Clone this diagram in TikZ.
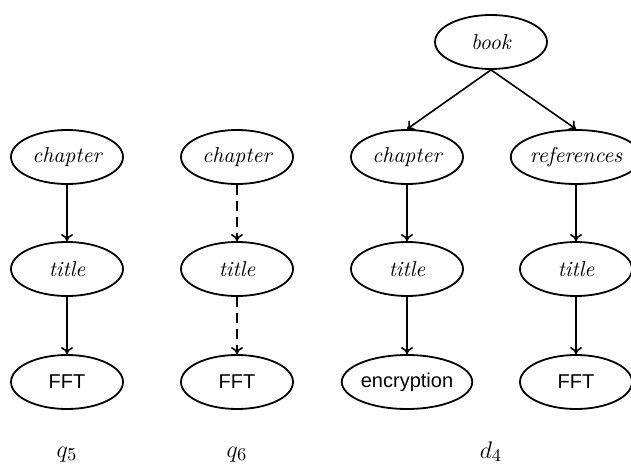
\documentclass[tikz,border=0pt]{standalone}
\usepackage{fontspec}
\newfontfamily\sansf{Liberation Sans}
\usetikzlibrary{shapes.geometric,arrows.meta}
\tikzset{
  el/.style={ellipse,draw,line width=0.9pt,minimum width=56pt,minimum height=27pt,inner sep=0pt,font=\fontsize{10.8}{12}\selectfont\itshape},
  sel/.style={el,font=\fontsize{10}{12}\selectfont\sansf},
  arr/.style={-{To[length=3.5pt,width=6pt]},line width=0.8pt},
  darr/.style={arr,dash pattern=on 5pt off 3pt},
  lab/.style={anchor=base,font=\fontsize{12.5}{14}\selectfont}
}
\begin{document}
\begin{tikzpicture}[x=0.5pt,y=-0.5pt]
\useasboundingbox (0,0) rectangle (631,464);
% q5
\node[el] (c1) at (67,157) {chapter};
\node[el] (t1) at (67,269) {title};
\node[sel] (f1) at (67,382) {FFT};
\draw[arr] (c1.south) -- (t1.north);
\draw[arr] (t1.south) -- (f1.north);
\node[lab] (q5) at (67,457) {$q_5$};
% q6
\node[el] (c2) at (237,157) {chapter};
\node[el] (t2) at (237,269) {title};
\node[sel] (f2) at (237,382) {FFT};
\draw[darr] (c2.south) -- (t2.north);
\draw[darr] (t2.south) -- (f2.north);
\node[lab] (q6) at (237,457) {$q_6$};
% d4
\node[el] (b) at (491,42) {book};
\node[el] (c3) at (407,157) {chapter};
\node[el] (t3) at (407,269) {title};
\node[sel] (e3) at (407,382) {encryption};
\node[el] (r4) at (576,157) {references};
\node[el] (t4) at (576,269) {title};
\node[sel] (f4) at (576,382) {FFT};
\draw[arr] (b.south) -- (c3.north);
\draw[arr] (b.south) -- (r4.north);
\draw[arr] (c3.south) -- (t3.north);
\draw[arr] (t3.south) -- (e3.north);
\draw[arr] (r4.south) -- (t4.north);
\draw[arr] (t4.south) -- (f4.north);
\node[lab] (d4) at (491,458) {$d_4$};
\end{tikzpicture}
\end{document}
